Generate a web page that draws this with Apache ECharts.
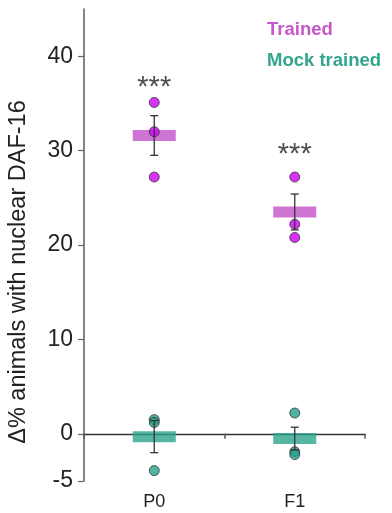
<!DOCTYPE html>
<html>
<head>
<meta charset="utf-8">
<script src="https://cdn.jsdelivr.net/npm/echarts@6/dist/echarts.min.js"></script>
<style>
  html, body { margin: 0; padding: 0; background: #fff; }
  #chart { width: 392px; height: 513px; }
</style>
</head>
<body>
<div id="chart"></div>
<script>
// groups on the x axis
var categories = ['P0', 'F1'];
var yTicks = [-5, 0, 10, 20, 30, 40];

// Trained: mean, SEM and single replicates
var trainedMean = [31.6, 23.5];
var trainedErr = [2.1, 1.9];
var trainedPoints = [[35.1, 32.0, 27.2], [27.2, 22.2, 20.8]];

// Mock trained
var mockMean = [-0.3, -0.5];
var mockErr = [1.7, 1.2];
var mockPoints = [[1.5, 1.2, -3.9], [2.2, -1.9, -2.2]];

// significance marks
var starText = ['***', '***'];
var starY = [36.6, 29.5];

var font = 'Liberation Sans, Arial, sans-serif';

function pointsData(arr) {
    var out = [];
    for (var i = 0; i < arr.length; i++) {
        for (var j = 0; j < arr[i].length; j++) {
            out.push([categories[i], arr[i][j]]);
        }
    }
    return out;
}

function errData(mean, err) {
    var out = [];
    for (var i = 0; i < mean.length; i++) {
        out.push([categories[i], mean[i] - err[i], mean[i] + err[i]]);
    }
    return out;
}

// error bar: vertical line with a cap at each end
function renderErr(params, api) {
    var lo = api.coord([api.value(0), api.value(1)]);
    var hi = api.coord([api.value(0), api.value(2)]);
    var cap = 4;
    var style = { stroke: '#333', lineWidth: 1.3 };
    return {
        type: 'group',
        children: [
            { type: 'line', shape: { x1: lo[0], y1: lo[1], x2: hi[0], y2: hi[1] }, style: style },
            { type: 'line', shape: { x1: lo[0] - cap, y1: lo[1], x2: lo[0] + cap, y2: lo[1] }, style: style },
            { type: 'line', shape: { x1: hi[0] - cap, y1: hi[1], x2: hi[0] + cap, y2: hi[1] }, style: style }
        ]
    };
}

var chart = echarts.init(document.getElementById('chart'));
chart.setOption({
    animation: false,
    textStyle: { fontFamily: font },
    grid: { left: 84, right: 27, top: 9, bottom: 32 },
    legend: {
        orient: 'vertical',
        left: 257,
        top: 15,
        icon: 'none',
        itemWidth: 0,
        itemGap: 12,
        selectedMode: false,
        data: [
            { name: 'Trained', textStyle: { color: '#c857cc' } },
            { name: 'Mock trained', textStyle: { color: '#33a58c' } }
        ],
        textStyle: { fontSize: 18.5, fontWeight: 'bold', fontFamily: font }
    },
    graphic: [{
        type: 'text',
        rotation: Math.PI / 2,
        x: 19, y: 272,
        style: {
            text: 'Δ% animals with nuclear DAF-16',
            font: '23.5px ' + font,
            fill: '#222',
            align: 'center',
            verticalAlign: 'middle'
        }
    }],
    xAxis: [{
        type: 'category',
        data: categories,
        axisLine: { onZero: true, lineStyle: { color: '#333', width: 1.3 } },
        axisTick: { show: true, length: 5, lineStyle: { color: '#555', width: 1.5 } },
        axisLabel: { show: false },
        splitLine: { show: false }
    }, {
        type: 'category',
        data: categories,
        position: 'bottom',
        axisLine: { show: false, onZero: false },
        axisTick: { show: false },
        axisLabel: { margin: 12, fontSize: 18, color: '#222' }
    }],
    yAxis: {
        type: 'value',
        min: -5,
        max: 45,
        axisLine: { show: true, lineStyle: { color: '#666', width: 1.6 } },
        axisTick: { show: true, length: 6, customValues: yTicks, lineStyle: { color: '#666', width: 1.2 } },
        axisLabel: { customValues: yTicks, fontSize: 23, color: '#222', margin: 11 },
        splitLine: { show: false }
    },
    series: [
        {
            name: 'Trained',
            type: 'scatter',
            symbol: 'rect',
            symbolSize: [43, 11],
            itemStyle: { color: '#c252c9' },
            data: trainedMean.map(function (v, i) { return [categories[i], v]; }),
            z: 2
        },
        {
            name: 'Mock trained',
            type: 'scatter',
            symbol: 'rect',
            symbolSize: [43, 11],
            itemStyle: { color: '#2da38c' },
            data: mockMean.map(function (v, i) { return [categories[i], v]; }),
            z: 2
        },
        {
            name: 'Trained',
            type: 'scatter',
            symbolSize: 10,
            itemStyle: { color: '#cc00f5', borderColor: '#333', borderWidth: 1 },
            data: pointsData(trainedPoints),
            z: 3
        },
        {
            name: 'Mock trained',
            type: 'scatter',
            symbolSize: 10,
            itemStyle: { color: '#25a08a', borderColor: '#333', borderWidth: 1 },
            data: pointsData(mockPoints),
            z: 3
        },
        {
            type: 'custom',
            renderItem: renderErr,
            data: errData(trainedMean, trainedErr),
            z: 4
        },
        {
            type: 'custom',
            renderItem: renderErr,
            data: errData(mockMean, mockErr),
            z: 4
        },
        {
            type: 'scatter',
            symbolSize: 0,
            silent: true,
            label: {
                show: true,
                position: 'inside',
                formatter: function (p) { return starText[p.dataIndex]; },
                fontSize: 29,
                color: '#222',
                fontFamily: font
            },
            data: starY.map(function (v, i) { return [categories[i], v]; }),
            z: 5
        }
    ]
});
</script>
</body>
</html>
